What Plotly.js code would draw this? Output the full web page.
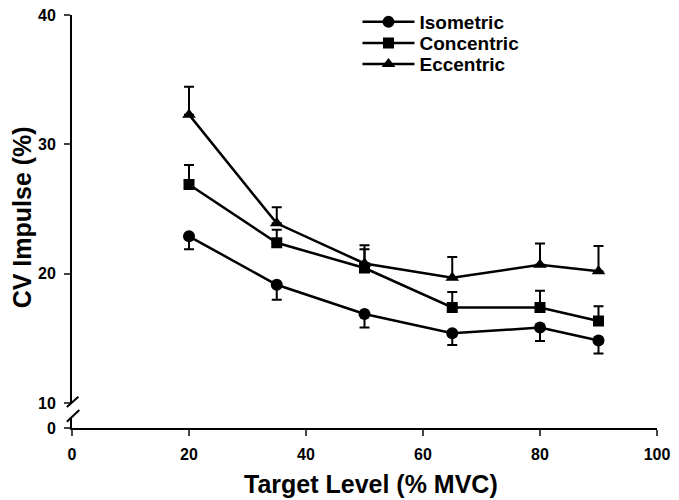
<!DOCTYPE html>
<html>
<head>
<meta charset="utf-8">
<script src="https://cdn.plot.ly/plotly-3.0.1.min.js"></script>
<style>html,body{margin:0;padding:0;background:#fff;}#chart{width:679px;height:500px;}</style>
</head>
<body>
<div id="chart"></div>
<script>
var targetLevel = [20, 35, 50, 65, 80, 90];
var isometric = [22.9, 19.15, 16.9, 15.4, 15.85, 14.85];
var isometricErr = [1.0, 1.15, 1.05, 0.9, 1.05, 1.0];
var concentric = [26.9, 22.4, 20.45, 17.4, 17.4, 16.35];
var concentricErr = [1.5, 1.0, 1.45, 1.2, 1.3, 1.15];
var eccentric = [32.3, 23.9, 20.8, 19.7, 20.7, 20.2];
var eccentricErr = [2.15, 1.25, 1.4, 1.6, 1.65, 1.95];
var seriesNames = ['Isometric', 'Concentric', 'Eccentric'];
var xTicks = [0, 20, 40, 60, 80, 100];
var yTicks = [10, 20, 30, 40];
var yLowTicks = [0];
var xTitle = 'Target Level (% MVC)';
var yTitle = 'CV Impulse (%)';

var fontFam = 'Liberation Sans, Arial, Helvetica, sans-serif';
function zeros(n){var a=[];for(var i=0;i<n;i++)a.push(0);return a;}
function bold(v){return '<b>' + v + '</b>';}

var traces = [
  {x: targetLevel, y: isometric, name: bold(seriesNames[0]), legend: 'legend', type: 'scatter', mode: 'lines+markers',
   line: {color: '#000', width: 2.5}, marker: {symbol: 'circle', size: 12, color: '#000'},
   error_y: {type: 'data', symmetric: false, array: zeros(6), arrayminus: isometricErr, color: '#000', thickness: 2, width: 5}},
  {x: targetLevel, y: concentric, name: bold(seriesNames[1]), legend: 'legend2', type: 'scatter', mode: 'lines+markers',
   line: {color: '#000', width: 2.5}, marker: {symbol: 'square', size: 11, color: '#000'},
   error_y: {type: 'data', symmetric: false, array: concentricErr, arrayminus: zeros(6), color: '#000', thickness: 2, width: 5}},
  {x: targetLevel, y: eccentric, name: bold(seriesNames[2]), legend: 'legend3', type: 'scatter', mode: 'lines+markers',
   line: {color: '#000', width: 2.5}, marker: {symbol: 'triangle-up', size: 12, color: '#000'},
   error_y: {type: 'data', symmetric: false, array: eccentricErr, arrayminus: zeros(6), color: '#000', thickness: 2, width: 5}},
  {x: [null], y: [null], yaxis: 'y2', type: 'scatter', mode: 'markers', showlegend: false, hoverinfo: 'skip'}
];

var tickFont = {family: fontFam, size: 16, color: '#000'};
var legFont = {family: fontFam, size: 19, color: '#000'};
function leg(yp){
  return {x: 0.488, y: yp, xanchor: 'left', yanchor: 'middle', bgcolor: 'rgba(0,0,0,0)', borderwidth: 0,
          font: legFont, itemwidth: 52};
}
var layout = {
  width: 679, height: 500,
  margin: {l: 72, r: 22, t: 15, b: 72, autoexpand: false},
  paper_bgcolor: '#fff', plot_bgcolor: '#fff',
  showlegend: true,
  hovermode: false,
  font: {family: fontFam, color: '#000', size: 14},
  legend: leg(0.983),
  legend2: leg(0.932),
  legend3: leg(0.881),
  xaxis: {range: [0, 100], tickvals: xTicks, ticktext: xTicks.map(bold), ticks: 'outside', ticklen: 6, tickwidth: 2,
          ticklabelstandoff: 5, automargin: false,
          showline: true, linecolor: '#000', linewidth: 2, showgrid: false, zeroline: false, anchor: 'y2',
          tickfont: tickFont},
  yaxis: {domain: [0.06, 1], range: [10, 40], tickvals: yTicks, ticktext: yTicks.map(bold), ticks: 'outside', ticklen: 6, tickwidth: 2,
          ticklabelstandoff: 5, automargin: false,
          showline: true, linecolor: '#000', linewidth: 2, showgrid: false, zeroline: false,
          tickfont: tickFont},
  yaxis2: {domain: [0, 0.025], range: [0, 1], tickvals: yLowTicks, ticktext: yLowTicks.map(bold), ticks: 'outside', ticklen: 6, tickwidth: 2,
           ticklabelstandoff: 5, automargin: false,
           showline: true, linecolor: '#000', linewidth: 2, showgrid: false, zeroline: false,
           tickfont: tickFont},
  annotations: [
    {text: bold(xTitle), xref: 'paper', yref: 'paper', x: 0.511, y: -0.136, xanchor: 'center', yanchor: 'middle',
     showarrow: false, font: {family: fontFam, size: 25, color: '#000'}},
    {text: bold(yTitle), xref: 'paper', yref: 'paper', x: -0.0855, y: 0.51, xanchor: 'center', yanchor: 'middle',
     textangle: -90, showarrow: false, font: {family: fontFam, size: 25, color: '#000'}}
  ],
  shapes: [
    {type: 'line', xref: 'paper', yref: 'paper', x0: -0.0088, x1: 0.011, y0: 0.051, y1: 0.0755, line: {color: '#000', width: 2}},
    {type: 'line', xref: 'paper', yref: 'paper', x0: -0.0088, x1: 0.0125, y0: 0.015, y1: 0.0435, line: {color: '#000', width: 2}}
  ]
};

Plotly.newPlot('chart', traces, layout, {displayModeBar: false, staticPlot: true});
</script>
</body>
</html>
